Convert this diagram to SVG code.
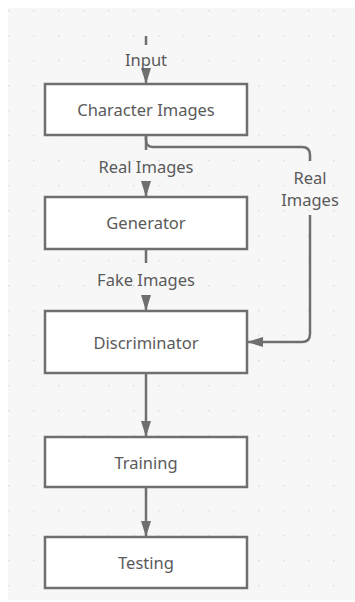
<svg xmlns="http://www.w3.org/2000/svg" width="355" height="602" viewBox="0 0 355 602">
<defs>
<pattern id="dots" x="8" y="10" width="25" height="25" patternUnits="userSpaceOnUse">
<circle cx="0.8" cy="0.8" r="0.8" fill="#d8d8dc"/>
</pattern>
<marker id="arr" viewBox="0 0 16 10" refX="16" refY="5" markerWidth="16" markerHeight="10" markerUnits="userSpaceOnUse" orient="auto">
<path d="M0,0 L16,5 L0,10 Z" fill="#6f6f6f"/>
</marker>
<style>
.box{fill:#ffffff;stroke:#6f6f6f;stroke-width:2.5}
.lbl{font-family:"Noto Sans","Open Sans",sans-serif;font-size:16.5px;fill:#5a5a5a;text-anchor:middle}
.edge{fill:none;stroke:#6f6f6f;stroke-width:2.5}
.elbl{font-family:"Noto Sans","Open Sans",sans-serif;font-size:16.5px;fill:#5a5a5a;text-anchor:middle}
</style>
</defs>
<rect x="8" y="8" width="347" height="592" fill="#f7f7f8"/>
<rect x="8" y="8" width="347" height="592" fill="url(#dots)"/>
<g id="connectors">
<path class="edge" d="M146,36 V45"/>
<path class="edge" d="M146,75 V84" marker-end="url(#arr)"/>
<path class="edge" d="M146,135 V150"/>
<path class="edge" d="M146,135 V140 Q146,147 153,147 H302 Q310,147 310,155 V161"/>
<path class="edge" d="M146,185 V197" marker-end="url(#arr)"/>
<path class="edge" d="M310,215 V334 Q310,342 302,342 H247" marker-end="url(#arr)"/>
<path class="edge" d="M146,249 V263"/>
<path class="edge" d="M146,297 V311" marker-end="url(#arr)"/>
<path class="edge" d="M146,373 V437" marker-end="url(#arr)"/>
<path class="edge" d="M146,487 V537" marker-end="url(#arr)"/>
<text class="elbl" x="146" y="66">Input</text>
<text class="elbl" x="146" y="173">Real Images</text>
<text class="elbl" x="310" y="184">Real</text>
<text class="elbl" x="310" y="206">Images</text>
<text class="elbl" x="146" y="286">Fake Images</text>
</g>
<g id="character-images"><rect class="box" x="45" y="84" width="202" height="51"/><text class="lbl" x="146" y="116">Character Images</text></g>
<g id="generator"><rect class="box" x="45" y="197" width="202" height="52"/><text class="lbl" x="146" y="229">Generator</text></g>
<g id="discriminator"><rect class="box" x="45" y="311" width="202" height="62"/><text class="lbl" x="146" y="349">Discriminator</text></g>
<g id="training"><rect class="box" x="45" y="437" width="202" height="50"/><text class="lbl" x="146" y="469">Training</text></g>
<g id="testing"><rect class="box" x="45" y="537" width="202" height="51"/><text class="lbl" x="146" y="569">Testing</text></g>
</svg>
